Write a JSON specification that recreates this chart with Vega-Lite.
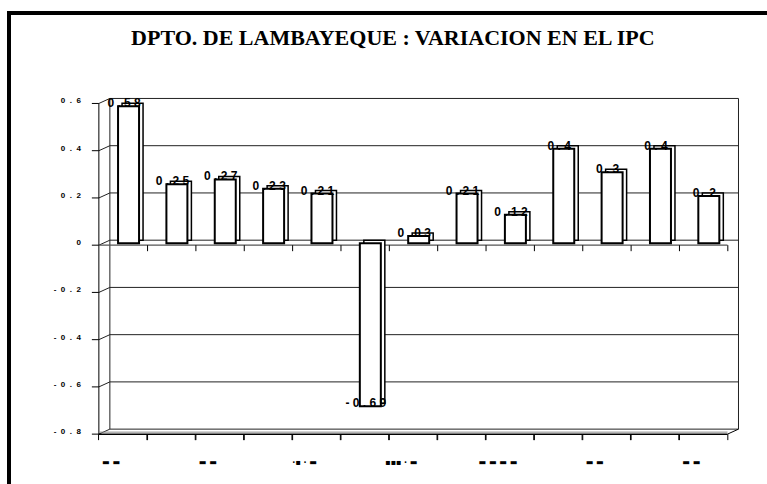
{
"$schema": "https://vega.github.io/schema/vega-lite/v6.json",
"width": 767, "height": 484,
"autosize": {"type": "fit", "contains": "padding"},
"padding": {"left": 9, "top": 13, "right": -3, "bottom": -3},
"background": "white",
"config": {"view": {"stroke": "black", "strokeWidth": 4, "fill": "white"}, "font": "Liberation Sans"},
"datasets": {
"bars": [
{"i": 1, "v": 0.58, "lab": "0 . 5 8", "cat": "▬ ▬"},
{"i": 2, "v": 0.25, "lab": "0 . 2 5", "cat": ""},
{"i": 3, "v": 0.27, "lab": "0 . 2 7", "cat": "▬ ▬"},
{"i": 4, "v": 0.23, "lab": "0 . 2 3", "cat": ""},
{"i": 5, "v": 0.21, "lab": "0 . 2 1", "cat": "·▪ · ▬"},
{"i": 6, "v": -0.69, "lab": "- 0 . 6 9", "cat": ""},
{"i": 7, "v": 0.03, "lab": "0 . 0 3", "cat": "▪▪▪ · ▬"},
{"i": 8, "v": 0.21, "lab": "0 . 2 1", "cat": ""},
{"i": 9, "v": 0.12, "lab": "0 . 1 2", "cat": "▬ ▬ ▬ ▬"},
{"i": 10, "v": 0.4, "lab": "0 . 4", "cat": ""},
{"i": 11, "v": 0.3, "lab": "0 . 3", "cat": "▬ ▬"},
{"i": 12, "v": 0.4, "lab": "0 . 4", "cat": ""},
{"i": 13, "v": 0.2, "lab": "0 . 2", "cat": "▬ ▬"}
],
"ticks": [
{"t": -0.8, "lab": "-\u00a0\u00a00\u00a0\u00a0.\u00a0\u00a08"}, {"t": -0.6, "lab": "-\u00a0\u00a00\u00a0\u00a0.\u00a0\u00a06"}, {"t": -0.4, "lab": "-\u00a0\u00a00\u00a0\u00a0.\u00a0\u00a04"}, {"t": -0.2, "lab": "-\u00a0\u00a00\u00a0\u00a0.\u00a0\u00a02"},
{"t": 0, "lab": "0"}, {"t": 0.2, "lab": "0\u00a0\u00a0.\u00a0\u00a02"}, {"t": 0.4, "lab": "0\u00a0\u00a0.\u00a0\u00a04"}, {"t": 0.6, "lab": "0\u00a0\u00a0.\u00a0\u00a06"}
]
},
"layer": [
{
"data": {"name": "ticks"},
"mark": {"type": "rule", "color": "#222", "strokeWidth": 1, "xOffset": 11, "x2Offset": 11, "yOffset": -5},
"encoding": {
"x": {"datum": 0.5, "type": "quantitative", "scale": {"domain": [-1.2551, 14.2755], "nice": false, "zero": false}, "axis": null},
"x2": {"datum": 13.5},
"y": {"field": "t", "type": "quantitative", "scale": {"domain": [-1.0238, 0.983], "nice": false, "zero": false}, "axis": null}
}
},
{
"data": {"name": "ticks"},
"mark": {"type": "rule", "color": "#222", "strokeWidth": 1, "x2Offset": 11, "y2Offset": -5},
"encoding": {
"x": {"datum": 0.5, "type": "quantitative", "scale": {"domain": [-1.2551, 14.2755], "nice": false, "zero": false}, "axis": null},
"x2": {"datum": 0.5},
"y": {"field": "t", "type": "quantitative", "scale": {"domain": [-1.0238, 0.983], "nice": false, "zero": false}, "axis": null},
"y2": {"field": "t"}
}
},
{
"data": {"name": "ticks"},
"mark": {"type": "rule", "color": "black", "strokeWidth": 1, "xOffset": -7},
"encoding": {
"x": {"datum": 0.5, "type": "quantitative", "scale": {"domain": [-1.2551, 14.2755], "nice": false, "zero": false}, "axis": null},
"x2": {"datum": 0.5},
"y": {"field": "t", "type": "quantitative", "scale": {"domain": [-1.0238, 0.983], "nice": false, "zero": false}, "axis": null}
}
},
{
"data": {"name": "ticks"},
"mark": {"type": "text", "font": "Liberation Sans", "fontWeight": "bold", "fontSize": 8, "color": "black", "align": "right", "baseline": "middle", "dx": -18, "dy": -2},
"encoding": {
"x": {"datum": 0.5, "type": "quantitative", "scale": {"domain": [-1.2551, 14.2755], "nice": false, "zero": false}, "axis": null},
"y": {"field": "t", "type": "quantitative", "scale": {"domain": [-1.0238, 0.983], "nice": false, "zero": false}, "axis": null},
"text": {"field": "lab"}
}
},
{
"data": {"values": [{}]},
"mark": {"type": "rule", "color": "#222", "strokeWidth": 1, "xOffset": 11, "yOffset": -5, "y2Offset": -5},
"encoding": {
"x": {"datum": 0.5, "type": "quantitative", "scale": {"domain": [-1.2551, 14.2755], "nice": false, "zero": false}, "axis": null},
"y": {"datum": 0.6, "type": "quantitative", "scale": {"domain": [-1.0238, 0.983], "nice": false, "zero": false}, "axis": null},
"y2": {"datum": -0.8}
}
},
{
"data": {"values": [{}]},
"mark": {"type": "rule", "color": "#222", "strokeWidth": 1, "xOffset": 11, "yOffset": -5, "y2Offset": -5},
"encoding": {
"x": {"datum": 13.5, "type": "quantitative", "scale": {"domain": [-1.2551, 14.2755], "nice": false, "zero": false}, "axis": null},
"y": {"datum": 0.6, "type": "quantitative", "scale": {"domain": [-1.0238, 0.983], "nice": false, "zero": false}, "axis": null},
"y2": {"datum": -0.8}
}
},
{
"data": {"values": [{}]},
"mark": {"type": "rule", "color": "black", "strokeWidth": 1},
"encoding": {
"x": {"datum": 0.5, "type": "quantitative", "scale": {"domain": [-1.2551, 14.2755], "nice": false, "zero": false}, "axis": null},
"y": {"datum": 0.6, "type": "quantitative", "scale": {"domain": [-1.0238, 0.983], "nice": false, "zero": false}, "axis": null},
"y2": {"datum": -0.8}
}
},
{
"data": {"values": [{}]},
"mark": {"type": "rule", "color": "black", "strokeWidth": 1.5},
"encoding": {
"x": {"datum": 0.5, "type": "quantitative", "scale": {"domain": [-1.2551, 14.2755], "nice": false, "zero": false}, "axis": null},
"x2": {"datum": 13.5},
"y": {"datum": -0.8, "type": "quantitative", "scale": {"domain": [-1.0238, 0.983], "nice": false, "zero": false}, "axis": null}
}
},
{
"data": {"values": [{}]},
"mark": {"type": "rule", "color": "#888", "strokeWidth": 1, "yOffset": -2},
"encoding": {
"x": {"datum": 0.5, "type": "quantitative", "scale": {"domain": [-1.2551, 14.2755], "nice": false, "zero": false}, "axis": null},
"x2": {"datum": 13.5},
"y": {"datum": -0.8, "type": "quantitative", "scale": {"domain": [-1.0238, 0.983], "nice": false, "zero": false}, "axis": null}
}
},
{
"data": {"values": [{}]},
"mark": {"type": "rule", "color": "black", "strokeWidth": 1, "x2Offset": 11, "y2Offset": -5},
"encoding": {
"x": {"datum": 13.5, "type": "quantitative", "scale": {"domain": [-1.2551, 14.2755], "nice": false, "zero": false}, "axis": null},
"x2": {"datum": 13.5},
"y": {"datum": -0.8, "type": "quantitative", "scale": {"domain": [-1.0238, 0.983], "nice": false, "zero": false}, "axis": null},
"y2": {"datum": -0.8}
}
},
{
"data": {"name": "bars"},
"mark": {"type": "rule", "color": "black", "strokeWidth": 1, "xOffset": -24.5, "y2Offset": 6},
"encoding": {
"x": {"field": "i", "type": "quantitative", "scale": {"domain": [-1.2551, 14.2755], "nice": false, "zero": false}, "axis": null},
"y": {"datum": -0.8, "type": "quantitative", "scale": {"domain": [-1.0238, 0.983], "nice": false, "zero": false}, "axis": null},
"y2": {"datum": -0.8}
}
},
{
"data": {"name": "bars"},
"mark": {"type": "rule", "color": "black", "strokeWidth": 1, "xOffset": 24.5, "y2Offset": 6},
"encoding": {
"x": {"field": "i", "type": "quantitative", "scale": {"domain": [-1.2551, 14.2755], "nice": false, "zero": false}, "axis": null},
"y": {"datum": -0.8, "type": "quantitative", "scale": {"domain": [-1.0238, 0.983], "nice": false, "zero": false}, "axis": null},
"y2": {"datum": -0.8}
}
},
{
"data": {"values": [{}]},
"mark": {"type": "rule", "color": "#555", "strokeWidth": 1.2},
"encoding": {
"x": {"datum": 0.5, "type": "quantitative", "scale": {"domain": [-1.2551, 14.2755], "nice": false, "zero": false}, "axis": null},
"x2": {"datum": 13.5},
"y": {"datum": 0, "type": "quantitative", "scale": {"domain": [-1.0238, 0.983], "nice": false, "zero": false}, "axis": null}
}
},
{
"data": {"name": "bars"},
"mark": {"type": "rule", "color": "black", "strokeWidth": 1, "xOffset": 24.5, "y2Offset": 6},
"encoding": {
"x": {"field": "i", "type": "quantitative", "scale": {"domain": [-1.2551, 14.2755], "nice": false, "zero": false}, "axis": null},
"y": {"datum": 0, "type": "quantitative", "scale": {"domain": [-1.0238, 0.983], "nice": false, "zero": false}, "axis": null},
"y2": {"datum": 0}
}
},
{
"data": {"name": "bars"},
"mark": {"type": "bar", "fill": "white", "stroke": "black", "strokeWidth": 1.5, "width": 21, "xOffset": 9.5, "yOffset": -5, "y2Offset": -5},
"encoding": {
"x": {"field": "i", "type": "quantitative", "scale": {"domain": [-1.2551, 14.2755], "nice": false, "zero": false}, "axis": null},
"y": {"field": "v", "type": "quantitative", "scale": {"domain": [-1.0238, 0.983], "nice": false, "zero": false}, "axis": null},
"y2": {"datum": 0}
}
},
{
"data": {"name": "bars"},
"mark": {"type": "bar", "fill": "white", "stroke": "black", "strokeWidth": 2, "width": 21, "xOffset": 5.5, "yOffset": -2, "y2Offset": -2},
"encoding": {
"x": {"field": "i", "type": "quantitative", "scale": {"domain": [-1.2551, 14.2755], "nice": false, "zero": false}, "axis": null},
"y": {"field": "v", "type": "quantitative", "scale": {"domain": [-1.0238, 0.983], "nice": false, "zero": false}, "axis": null},
"y2": {"datum": 0}
}
},
{
"data": {"name": "bars"},
"mark": {"type": "text", "font": "Liberation Sans", "fontWeight": "bold", "fontSize": 12, "color": "black", "baseline": "alphabetic", "align": "center", "dx": 1, "dy": -1},
"encoding": {
"x": {"field": "i", "type": "quantitative", "scale": {"domain": [-1.2551, 14.2755], "nice": false, "zero": false}, "axis": null},
"y": {"field": "v", "type": "quantitative", "scale": {"domain": [-1.0238, 0.983], "nice": false, "zero": false}, "axis": null},
"text": {"field": "lab"}
}
},
{
"data": {"name": "bars"},
"mark": {"type": "text", "font": "DejaVu Sans", "fontWeight": "bold", "fontSize": 8, "color": "black", "baseline": "middle", "align": "center", "dx": -12, "dy": 29},
"encoding": {
"x": {"field": "i", "type": "quantitative", "scale": {"domain": [-1.2551, 14.2755], "nice": false, "zero": false}, "axis": null},
"y": {"datum": -0.8, "type": "quantitative", "scale": {"domain": [-1.0238, 0.983], "nice": false, "zero": false}, "axis": null},
"text": {"field": "cat"}
}
},
{
"data": {"values": [{}]},
"mark": {"type": "text", "font": "Liberation Serif", "fontWeight": "bold", "fontSize": 22, "color": "black", "baseline": "middle", "align": "center", "text": "DPTO. DE LAMBAYEQUE :  VARIACION EN EL IPC"},
"encoding": {
"x": {"datum": 6.58, "type": "quantitative", "scale": {"domain": [-1.2551, 14.2755], "nice": false, "zero": false}, "axis": null},
"y": {"datum": 0.877, "type": "quantitative", "scale": {"domain": [-1.0238, 0.983], "nice": false, "zero": false}, "axis": null}
}
}
]
}
